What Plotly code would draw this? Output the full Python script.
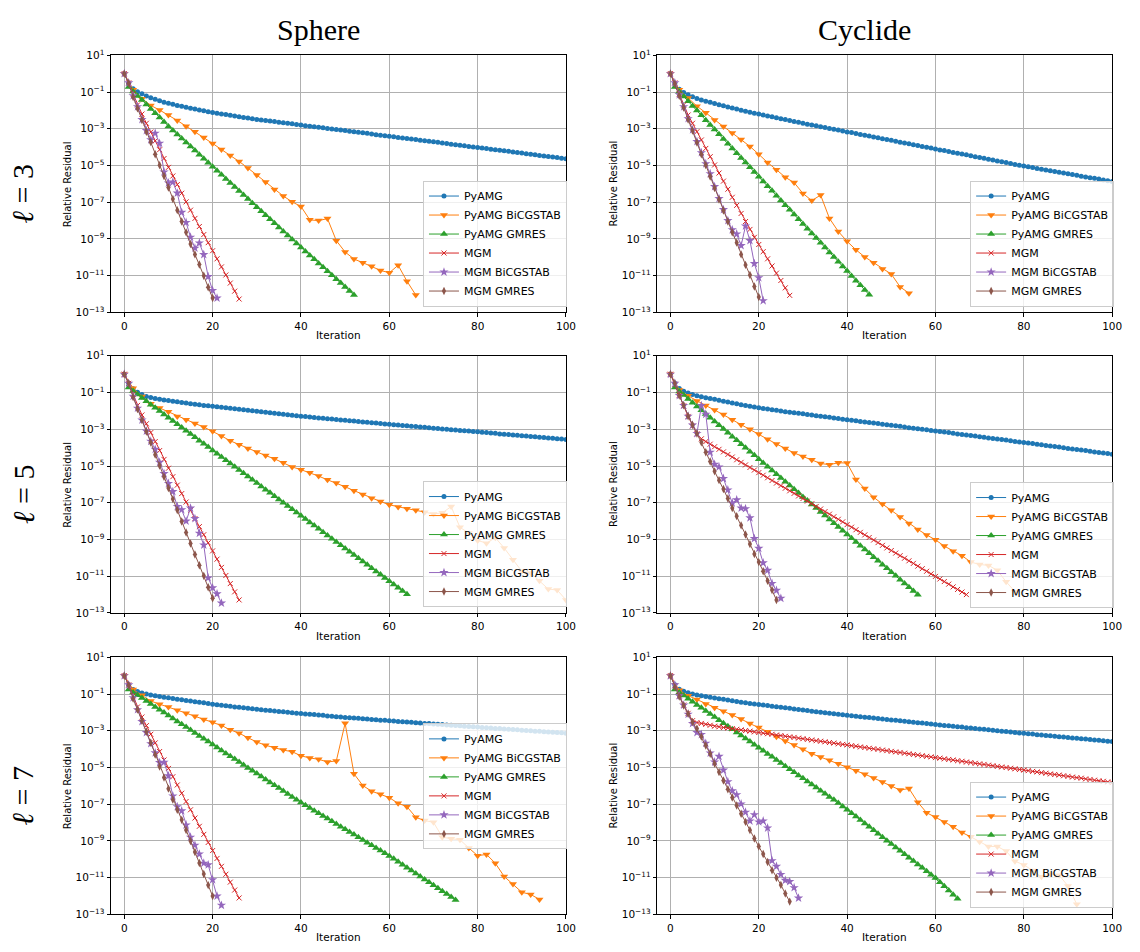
import plotly.graph_objects as go

# ---------------------------------------------------------------------------
# Convergence histories: log10 of the relative residual at each recorded
# iteration.  PyAMG, MGM and the MGM-preconditioned solvers record every
# iteration from 0, GMRES starts at iteration 1, BiCGSTAB records every
# second iteration.
# ---------------------------------------------------------------------------

# ---- Sphere, l = 3 ----
sph3_pyamg = [0.00, -0.55, -0.82, -0.98, -1.10, -1.21, -1.31, -1.40, -1.48, -1.55,
              -1.61, -1.67, -1.73, -1.78, -1.83, -1.88, -1.93, -1.98, -2.02, -2.07,
              -2.11, -2.15, -2.19, -2.23, -2.27, -2.31, -2.34, -2.38, -2.42, -2.45,
              -2.49, -2.52, -2.55, -2.58, -2.61, -2.64, -2.67, -2.70, -2.73, -2.77,
              -2.80, -2.83, -2.86, -2.89, -2.92, -2.95, -2.98, -3.01, -3.04, -3.07,
              -3.10, -3.13, -3.16, -3.19, -3.22, -3.25, -3.29, -3.32, -3.35, -3.38,
              -3.41, -3.44, -3.47, -3.50, -3.53, -3.56, -3.59, -3.62, -3.65, -3.68,
              -3.71, -3.74, -3.77, -3.80, -3.84, -3.87, -3.90, -3.93, -3.96, -3.99,
              -4.02, -4.05, -4.08, -4.11, -4.14, -4.17, -4.20, -4.23, -4.26, -4.29,
              -4.32, -4.36, -4.39, -4.42, -4.45, -4.48, -4.51, -4.54, -4.57, -4.60,
              -4.63]
sph3_bicgstab = [0.00, -0.88, -1.36, -1.73, -1.98, -2.25, -2.55, -2.86, -3.16, -3.48,
                 -3.80, -4.13, -4.45, -4.78, -5.14, -5.52, -5.90, -6.30, -6.66, -6.98,
                 -7.23, -7.96, -8.00, -7.89, -9.09, -9.71, -10.09, -10.29, -10.48, -10.71,
                 -10.84, -10.43, -11.30, -12.05]
sph3_gmres = [-0.73, -0.97, -1.21, -1.44, -1.68, -1.92, -2.16, -2.39, -2.63, -2.87,
              -3.09, -3.31, -3.53, -3.75, -3.97, -4.19, -4.41, -4.63, -4.85, -5.07,
              -5.29, -5.51, -5.73, -5.95, -6.17, -6.39, -6.61, -6.83, -7.05, -7.27,
              -7.49, -7.71, -7.93, -8.15, -8.37, -8.59, -8.81, -9.03, -9.25, -9.47,
              -9.68, -9.90, -10.11, -10.33, -10.54, -10.76, -10.97, -11.19, -11.40, -11.62,
              -11.83, -12.05]
sph3_mgm = [0.00, -0.50, -1.10, -1.70, -2.20, -2.70, -3.18, -3.66, -4.14, -4.62,
            -5.10, -5.57, -6.04, -6.51, -6.98, -7.43, -7.88, -8.32, -8.76, -9.20,
            -9.64, -10.08, -10.52, -10.96, -11.40, -11.84, -12.27]
sph3_mgm_bicgstab = [0.00, -0.50, -1.20, -1.80, -2.50, -3.10, -3.60, -3.24, -3.79, -5.35,
                     -5.95, -5.90, -6.50, -7.55, -8.10, -8.90, -9.50, -9.22, -9.85, -11.05,
                     -11.80, -12.22]
sph3_mgm_gmres = [0.00, -0.52, -1.27, -1.89, -2.52, -3.16, -3.73, -4.39, -4.98, -5.57,
                  -6.20, -6.82, -7.43, -8.05, -8.64, -9.27, -9.84, -10.39, -11.00, -11.63,
                  -12.21]

# ---- Cyclide, l = 3 ----
cyc3_pyamg = [0.00, -0.55, -0.85, -1.02, -1.15, -1.26, -1.35, -1.43, -1.50, -1.56,
              -1.62, -1.69, -1.75, -1.81, -1.87, -1.93, -1.99, -2.04, -2.10, -2.15,
              -2.20, -2.25, -2.30, -2.35, -2.40, -2.45, -2.50, -2.55, -2.60, -2.65,
              -2.70, -2.75, -2.79, -2.84, -2.89, -2.93, -2.98, -3.03, -3.07, -3.12,
              -3.17, -3.21, -3.26, -3.31, -3.35, -3.40, -3.45, -3.49, -3.54, -3.59,
              -3.63, -3.68, -3.73, -3.77, -3.82, -3.87, -3.91, -3.96, -4.01, -4.05,
              -4.10, -4.15, -4.19, -4.24, -4.29, -4.33, -4.38, -4.42, -4.47, -4.52,
              -4.56, -4.61, -4.66, -4.70, -4.75, -4.80, -4.84, -4.89, -4.94, -4.98,
              -5.03, -5.07, -5.11, -5.16, -5.20, -5.24, -5.28, -5.32, -5.37, -5.41,
              -5.45, -5.49, -5.53, -5.58, -5.62, -5.66, -5.70, -5.74, -5.79, -5.83,
              -5.87]
cyc3_bicgstab = [0.00, -0.88, -1.32, -1.77, -2.13, -2.52, -2.88, -3.23, -3.59, -3.96,
                 -4.39, -4.84, -5.23, -5.64, -5.93, -6.52, -6.91, -6.61, -7.88, -8.59,
                 -9.13, -9.59, -9.98, -10.29, -10.64, -10.91, -11.61, -11.95]
cyc3_gmres = [-0.73, -0.99, -1.24, -1.50, -1.76, -2.01, -2.27, -2.53, -2.79, -3.04,
              -3.30, -3.56, -3.81, -4.07, -4.33, -4.59, -4.84, -5.10, -5.36, -5.61,
              -5.87, -6.13, -6.38, -6.64, -6.90, -7.16, -7.41, -7.67, -7.93, -8.18,
              -8.44, -8.70, -8.95, -9.21, -9.47, -9.73, -9.98, -10.24, -10.50, -10.75,
              -11.01, -11.27, -11.52, -11.78, -12.04]
cyc3_mgm = [0.00, -0.50, -1.10, -1.70, -2.25, -2.70, -3.16, -3.61, -4.07, -4.52,
            -4.97, -5.41, -5.85, -6.29, -6.73, -7.17, -7.61, -8.05, -8.48, -8.91,
            -9.30, -9.69, -10.08, -10.47, -10.86, -11.26, -11.66, -12.07]
cyc3_mgm_bicgstab = [0.00, -0.50, -1.15, -1.80, -2.45, -3.05, -3.70, -4.30, -4.90, -5.45,
                     -6.15, -6.80, -7.40, -8.00, -8.50, -8.73, -9.36, -8.29, -9.09, -10.34,
                     -11.11, -12.36]
cyc3_mgm_gmres = [0.00, -0.55, -1.20, -1.85, -2.50, -3.10, -3.75, -4.39, -4.98, -5.60,
                  -6.23, -6.85, -7.45, -8.05, -8.64, -9.20, -9.84, -10.41, -10.96, -11.59,
                  -12.16]

# ---- Sphere, l = 5 ----
sph5_pyamg = [0.00, -0.50, -0.80, -0.98, -1.11, -1.21, -1.27, -1.32, -1.36, -1.40,
              -1.43, -1.47, -1.50, -1.54, -1.57, -1.61, -1.64, -1.67, -1.70, -1.72,
              -1.75, -1.78, -1.80, -1.83, -1.86, -1.88, -1.91, -1.94, -1.97, -1.99,
              -2.02, -2.05, -2.07, -2.10, -2.13, -2.15, -2.18, -2.21, -2.23, -2.26,
              -2.29, -2.31, -2.33, -2.36, -2.38, -2.40, -2.42, -2.44, -2.47, -2.49,
              -2.51, -2.53, -2.55, -2.58, -2.60, -2.62, -2.64, -2.66, -2.69, -2.71,
              -2.73, -2.75, -2.77, -2.79, -2.81, -2.83, -2.85, -2.87, -2.89, -2.91,
              -2.94, -2.96, -2.98, -3.00, -3.02, -3.04, -3.06, -3.08, -3.10, -3.12,
              -3.14, -3.16, -3.18, -3.20, -3.22, -3.25, -3.27, -3.29, -3.31, -3.33,
              -3.35, -3.37, -3.39, -3.41, -3.43, -3.45, -3.47, -3.49, -3.51, -3.53,
              -3.55]
sph5_bicgstab = [0.00, -0.77, -1.21, -1.61, -1.84, -2.05, -2.30, -2.48, -2.68, -2.88,
                 -3.11, -3.36, -3.63, -3.84, -4.04, -4.23, -4.43, -4.61, -4.82, -5.05,
                 -5.20, -5.36, -5.55, -5.75, -5.93, -6.13, -6.34, -6.55, -6.75, -6.93,
                 -7.11, -7.23, -7.32, -7.41, -7.52, -7.61, -7.55, -7.21, -8.34, -8.65,
                 -9.05, -9.20, -8.90, -9.46, -10.10, -10.73, -10.82, -11.25, -11.70, -11.75,
                 -12.29]
sph5_gmres = [-0.72, -0.92, -1.11, -1.30, -1.48, -1.66, -1.83, -2.01, -2.19, -2.37,
              -2.55, -2.73, -2.90, -3.08, -3.26, -3.44, -3.62, -3.79, -3.97, -4.15,
              -4.33, -4.51, -4.68, -4.86, -5.04, -5.22, -5.40, -5.57, -5.75, -5.93,
              -6.11, -6.29, -6.46, -6.64, -6.82, -7.00, -7.18, -7.35, -7.53, -7.71,
              -7.89, -8.07, -8.24, -8.42, -8.60, -8.78, -8.96, -9.13, -9.31, -9.49,
              -9.67, -9.85, -10.02, -10.20, -10.38, -10.56, -10.74, -10.91, -11.09, -11.27,
              -11.45, -11.63, -11.80, -11.98]
sph5_mgm = [0.00, -0.50, -1.10, -1.70, -2.22, -2.70, -3.18, -3.67, -4.16, -4.64,
            -5.12, -5.58, -6.04, -6.50, -6.96, -7.41, -7.86, -8.30, -8.74, -9.18,
            -9.62, -10.07, -10.52, -10.96, -11.40, -11.85, -12.29]
sph5_mgm_bicgstab = [0.00, -0.50, -1.20, -1.85, -2.50, -3.10, -3.65, -4.09, -4.80, -5.41,
                     -5.95, -6.39, -7.20, -7.38, -8.00, -7.29, -7.86, -8.66, -9.30, -11.09,
                     -11.63, -11.96, -12.46]
sph5_mgm_gmres = [0.00, -0.50, -1.25, -1.90, -2.50, -3.12, -3.72, -4.38, -4.98, -5.58,
                  -6.20, -6.80, -7.40, -8.02, -8.62, -9.22, -9.82, -10.40, -10.98, -11.60,
                  -12.20]

# ---- Cyclide, l = 5 ----
cyc5_pyamg = [0.00, -0.50, -0.78, -0.93, -1.03, -1.11, -1.17, -1.23, -1.28, -1.32,
              -1.37, -1.42, -1.47, -1.52, -1.57, -1.61, -1.66, -1.70, -1.75, -1.79,
              -1.83, -1.87, -1.90, -1.94, -1.97, -2.00, -2.04, -2.07, -2.10, -2.13,
              -2.16, -2.19, -2.22, -2.26, -2.29, -2.32, -2.35, -2.38, -2.41, -2.45,
              -2.48, -2.51, -2.54, -2.57, -2.60, -2.63, -2.66, -2.69, -2.72, -2.75,
              -2.78, -2.81, -2.84, -2.87, -2.91, -2.94, -2.97, -3.00, -3.03, -3.06,
              -3.09, -3.12, -3.15, -3.18, -3.22, -3.25, -3.28, -3.31, -3.34, -3.37,
              -3.41, -3.44, -3.47, -3.50, -3.53, -3.56, -3.59, -3.63, -3.66, -3.69,
              -3.72, -3.75, -3.78, -3.81, -3.84, -3.88, -3.91, -3.94, -3.97, -4.00,
              -4.04, -4.07, -4.10, -4.13, -4.16, -4.19, -4.23, -4.26, -4.29, -4.32,
              -4.36]
cyc5_bicgstab = [0.00, -0.86, -1.18, -1.46, -1.71, -1.95, -2.20, -2.48, -2.75, -3.00,
                 -3.25, -3.54, -3.80, -4.04, -4.29, -4.48, -4.66, -4.86, -4.93, -4.82,
                 -4.84, -5.73, -6.23, -6.70, -7.07, -7.41, -7.77, -8.13, -8.45, -8.75,
                 -9.02, -9.36, -9.64, -9.88, -10.23, -10.36, -10.41, -10.68, -11.30, -11.84]
cyc5_gmres = [-0.73, -0.94, -1.14, -1.35, -1.55, -1.76, -1.96, -2.17, -2.37, -2.58,
              -2.78, -2.99, -3.19, -3.40, -3.60, -3.81, -4.01, -4.22, -4.42, -4.63,
              -4.83, -5.04, -5.24, -5.45, -5.65, -5.86, -6.06, -6.27, -6.47, -6.68,
              -6.88, -7.09, -7.29, -7.50, -7.70, -7.91, -8.11, -8.32, -8.52, -8.73,
              -8.93, -9.14, -9.34, -9.55, -9.75, -9.96, -10.16, -10.37, -10.57, -10.78,
              -10.98, -11.19, -11.39, -11.60, -11.80, -12.01]
cyc5_mgm = [0.00, -0.55, -1.15, -1.72, -2.30, -2.82, -3.25, -3.52, -3.67, -3.81,
            -3.95, -4.09, -4.23, -4.37, -4.51, -4.66, -4.80, -4.94, -5.08, -5.22,
            -5.36, -5.50, -5.64, -5.79, -5.93, -6.07, -6.21, -6.35, -6.49, -6.63,
            -6.77, -6.91, -7.05, -7.20, -7.34, -7.48, -7.62, -7.76, -7.90, -8.04,
            -8.19, -8.33, -8.47, -8.61, -8.75, -8.89, -9.03, -9.17, -9.32, -9.46,
            -9.60, -9.74, -9.88, -10.02, -10.16, -10.30, -10.45, -10.59, -10.73, -10.87,
            -11.01, -11.15, -11.29, -11.43, -11.58, -11.72, -11.86, -12.00]
cyc5_mgm_bicgstab = [0.00, -0.50, -1.16, -1.70, -2.29, -2.77, -3.23, -1.71, -2.18, -4.25,
                     -4.91, -5.05, -5.68, -6.30, -7.02, -6.84, -7.29, -7.32, -7.82, -8.95,
                     -9.48, -10.27, -10.68, -11.39, -11.77, -12.20]
cyc5_mgm_gmres = [0.00, -0.50, -1.16, -1.70, -2.29, -2.77, -3.23, -3.71, -4.25, -4.75,
                  -5.29, -5.77, -6.25, -6.77, -7.29, -7.73, -8.23, -8.73, -9.25, -9.79,
                  -10.23, -10.73, -11.25, -11.75, -12.29]

# ---- Sphere, l = 7 ----
sph7_pyamg = [0.00, -0.50, -0.75, -0.86, -0.94, -1.00, -1.05, -1.09, -1.13, -1.17,
              -1.20, -1.24, -1.28, -1.31, -1.35, -1.38, -1.42, -1.45, -1.48, -1.52,
              -1.55, -1.58, -1.61, -1.64, -1.67, -1.70, -1.72, -1.75, -1.78, -1.80,
              -1.83, -1.85, -1.88, -1.90, -1.92, -1.95, -1.97, -1.99, -2.02, -2.04,
              -2.06, -2.08, -2.10, -2.12, -2.14, -2.16, -2.19, -2.21, -2.23, -2.25,
              -2.27, -2.29, -2.31, -2.32, -2.34, -2.36, -2.38, -2.40, -2.42, -2.43,
              -2.45, -2.47, -2.49, -2.51, -2.52, -2.54, -2.56, -2.58, -2.60, -2.61,
              -2.63, -2.65, -2.66, -2.68, -2.70, -2.71, -2.73, -2.75, -2.77, -2.78,
              -2.80, -2.82, -2.83, -2.85, -2.87, -2.88, -2.90, -2.92, -2.93, -2.95,
              -2.97, -2.98, -3.00, -3.02, -3.03, -3.05, -3.06, -3.08, -3.10, -3.11,
              -3.13]
sph7_bicgstab = [0.00, -0.75, -1.07, -1.38, -1.55, -1.70, -1.88, -2.04, -2.21, -2.39,
                 -2.54, -2.71, -2.95, -3.13, -3.38, -3.61, -3.79, -3.93, -4.05, -4.14,
                 -4.36, -4.48, -4.55, -4.70, -4.64, -2.59, -5.34, -5.98, -6.29, -6.46,
                 -6.64, -6.95, -7.13, -7.71, -7.89, -7.98, -8.79, -8.88, -8.93, -9.38,
                 -9.80, -9.73, -10.21, -10.93, -11.34, -11.79, -11.91, -12.18]
sph7_gmres = [-0.75, -0.91, -1.07, -1.22, -1.38, -1.54, -1.70, -1.86, -2.01, -2.17,
              -2.33, -2.49, -2.65, -2.80, -2.96, -3.12, -3.28, -3.44, -3.59, -3.75,
              -3.91, -4.07, -4.23, -4.38, -4.54, -4.70, -4.86, -5.02, -5.17, -5.33,
              -5.49, -5.65, -5.81, -5.96, -6.12, -6.28, -6.44, -6.60, -6.75, -6.91,
              -7.06, -7.20, -7.35, -7.49, -7.64, -7.78, -7.93, -8.07, -8.22, -8.36,
              -8.51, -8.65, -8.80, -8.94, -9.09, -9.23, -9.38, -9.52, -9.67, -9.81,
              -9.97, -10.13, -10.29, -10.45, -10.61, -10.77, -10.93, -11.09, -11.25, -11.41,
              -11.57, -11.73, -11.89, -12.05, -12.21]
sph7_mgm = [0.00, -0.50, -1.10, -1.70, -2.25, -2.72, -3.19, -3.66, -4.13, -4.59,
            -5.05, -5.50, -5.95, -6.40, -6.85, -7.30, -7.75, -8.20, -8.64, -9.08,
            -9.52, -9.95, -10.38, -10.81, -11.24, -11.67, -12.10]
sph7_mgm_bicgstab = [0.00, -0.50, -1.20, -1.85, -2.50, -3.10, -3.70, -4.20, -4.73, -4.71,
                     -5.45, -6.55, -7.13, -7.36, -8.13, -8.79, -9.23, -9.71, -10.21, -10.30,
                     -11.11, -12.00, -12.50]
sph7_mgm_gmres = [0.00, -0.52, -1.25, -1.85, -2.45, -3.05, -3.65, -4.30, -4.95, -5.55,
                  -6.15, -6.75, -7.30, -7.85, -8.40, -9.00, -9.60, -10.20, -10.80, -11.40,
                  -12.00]

# ---- Cyclide, l = 7 ----
cyc7_pyamg = [0.00, -0.50, -0.74, -0.85, -0.93, -1.00, -1.05, -1.09, -1.13, -1.17,
              -1.21, -1.25, -1.29, -1.33, -1.37, -1.40, -1.44, -1.47, -1.51, -1.54,
              -1.57, -1.60, -1.63, -1.66, -1.69, -1.72, -1.75, -1.78, -1.81, -1.84,
              -1.87, -1.90, -1.93, -1.96, -1.99, -2.02, -2.04, -2.07, -2.10, -2.13,
              -2.16, -2.18, -2.21, -2.23, -2.26, -2.28, -2.31, -2.33, -2.36, -2.38,
              -2.41, -2.43, -2.46, -2.48, -2.51, -2.53, -2.56, -2.58, -2.61, -2.63,
              -2.66, -2.68, -2.71, -2.73, -2.75, -2.78, -2.80, -2.83, -2.85, -2.88,
              -2.90, -2.92, -2.95, -2.97, -3.00, -3.02, -3.04, -3.07, -3.09, -3.12,
              -3.14, -3.16, -3.18, -3.21, -3.23, -3.25, -3.27, -3.30, -3.32, -3.34,
              -3.36, -3.39, -3.41, -3.43, -3.45, -3.48, -3.50, -3.52, -3.54, -3.57,
              -3.59]
cyc7_bicgstab = [0.00, -0.79, -1.09, -1.30, -1.54, -1.75, -1.93, -2.14, -2.36, -2.61,
                 -2.82, -3.05, -3.32, -3.55, -3.77, -4.00, -4.25, -4.43, -4.61, -4.79,
                 -4.98, -5.18, -5.36, -5.57, -5.79, -6.00, -6.23, -6.14, -6.89, -7.46,
                 -7.70, -7.96, -8.23, -8.54, -8.77, -9.04, -9.30, -9.30, -9.55, -10.10,
                 -10.30, -10.60, -10.95, -10.80, -10.86, -11.45, -12.45]
cyc7_gmres = [-0.75, -0.92, -1.08, -1.25, -1.42, -1.59, -1.75, -1.92, -2.09, -2.25,
              -2.42, -2.59, -2.75, -2.92, -3.09, -3.26, -3.42, -3.59, -3.76, -3.92,
              -4.09, -4.26, -4.42, -4.59, -4.76, -4.93, -5.09, -5.26, -5.43, -5.59,
              -5.76, -5.93, -6.09, -6.26, -6.43, -6.60, -6.76, -6.93, -7.12, -7.30,
              -7.49, -7.67, -7.86, -8.05, -8.23, -8.42, -8.60, -8.79, -8.98, -9.16,
              -9.35, -9.53, -9.72, -9.91, -10.09, -10.28, -10.46, -10.65, -10.84, -11.02,
              -11.25, -11.47, -11.70, -11.92, -12.15]
cyc7_mgm = [0.00, -0.55, -1.10, -1.60, -2.05, -2.45, -2.55, -2.60, -2.65, -2.70,
            -2.75, -2.78, -2.82, -2.85, -2.89, -2.92, -2.95, -2.99, -3.02, -3.06,
            -3.09, -3.13, -3.16, -3.19, -3.23, -3.26, -3.30, -3.33, -3.36, -3.40,
            -3.43, -3.47, -3.50, -3.54, -3.57, -3.60, -3.64, -3.67, -3.71, -3.74,
            -3.77, -3.81, -3.84, -3.88, -3.91, -3.95, -3.98, -4.01, -4.05, -4.08,
            -4.12, -4.15, -4.18, -4.22, -4.25, -4.29, -4.32, -4.36, -4.39, -4.42,
            -4.46, -4.49, -4.53, -4.56, -4.59, -4.63, -4.66, -4.70, -4.73, -4.77,
            -4.80, -4.83, -4.87, -4.90, -4.94, -4.97, -5.00, -5.04, -5.07, -5.11,
            -5.14, -5.17, -5.21, -5.24, -5.28, -5.31, -5.35, -5.38, -5.41, -5.45,
            -5.48, -5.52, -5.55, -5.58, -5.62, -5.65, -5.69, -5.72, -5.75, -5.79,
            -5.82]
cyc7_mgm_bicgstab = [0.00, -0.50, -1.10, -1.60, -2.10, -2.60, -3.10, -3.20, -3.68, -4.21,
                     -4.70, -4.39, -5.14, -5.77, -6.27, -6.48, -6.98, -7.43, -7.91, -7.57,
                     -7.96, -7.91, -8.29, -10.07, -10.38, -10.82, -11.14, -11.21, -11.54, -12.11]
cyc7_mgm_gmres = [0.00, -0.61, -1.14, -1.63, -2.07, -2.52, -2.88, -3.32, -3.80, -4.25,
                  -4.79, -5.25, -5.71, -6.18, -6.63, -7.07, -7.52, -7.96, -8.41, -8.86,
                  -9.30, -9.71, -10.14, -10.59, -11.00, -11.39, -11.86, -12.30]

# ---------------------------------------------------------------------------
series_names = ["PyAMG", "PyAMG BiCGSTAB", "PyAMG GMRES", "MGM", "MGM BiCGSTAB", "MGM GMRES"]
first_iter = [0, 0, 1, 0, 0, 0]
iter_stride = [1, 2, 1, 1, 1, 1]

colors = ["#1f77b4", "#ff7f0e", "#2ca02c", "#d62728", "#9467bd", "#8c564b"]
symbols = ["circle", "triangle-down", "triangle-up", "x-thin", "star", "diamond-tall"]
msizes = [5, 7, 7, 5, 7, 6]

column_titles = ["Sphere", "Cyclide"]
levels = [3, 5, 7]

# decade exponents labelled on the residual axis
y_exponents = [1, -1, -3, -5, -7, -9, -11, -13]
x_ticks = [0, 20, 40, 60, 80, 100]

# panels in row-major order: (row, col, data for the six solvers)
panels = [
    (0, 0, [sph3_pyamg, sph3_bicgstab, sph3_gmres, sph3_mgm, sph3_mgm_bicgstab, sph3_mgm_gmres]),
    (0, 1, [cyc3_pyamg, cyc3_bicgstab, cyc3_gmres, cyc3_mgm, cyc3_mgm_bicgstab, cyc3_mgm_gmres]),
    (1, 0, [sph5_pyamg, sph5_bicgstab, sph5_gmres, sph5_mgm, sph5_mgm_bicgstab, sph5_mgm_gmres]),
    (1, 1, [cyc5_pyamg, cyc5_bicgstab, cyc5_gmres, cyc5_mgm, cyc5_mgm_bicgstab, cyc5_mgm_gmres]),
    (2, 0, [sph7_pyamg, sph7_bicgstab, sph7_gmres, sph7_mgm, sph7_mgm_bicgstab, sph7_mgm_gmres]),
    (2, 1, [cyc7_pyamg, cyc7_bicgstab, cyc7_gmres, cyc7_mgm, cyc7_mgm_bicgstab, cyc7_mgm_gmres]),
]

# ---------------------------------------------------------------------------
# Page geometry (pixels)
W, H = 1140, 952
col_px = [(112, 571), (663, 1122)]
row_px = [(48, 309), (353, 614), (659, 920)]
# legend anchor per panel: (right edge x, y, vertical anchor)
legend_px = [(572, 303, "bottom"), (1124, 303, "bottom"),
             (572, 608, "bottom"), (1124, 609, "bottom"),
             (572, 790, "middle"), (1124, 913, "bottom")]


def px_x(v):
    return v / W


def px_y(v):
    return 1 - v / H


FONT = "DejaVu Sans"
ytick_vals = [10.0 ** e for e in y_exponents]
ytick_text = ["10<sup>%s</sup>" % str(e).replace("-", "\u2212") for e in y_exponents]

fig = go.Figure()
layout = dict(
    width=W, height=H,
    margin=dict(l=0, r=0, t=0, b=0),
    paper_bgcolor="white", plot_bgcolor="white",
    showlegend=True,
    annotations=[],
)

for k, (r, c, data) in enumerate(panels):
    ax = "" if k == 0 else str(k + 1)
    leg = "legend" if k == 0 else "legend%d" % (k + 1)
    for i, logres in enumerate(data):
        xs = [first_iter[i] + iter_stride[i] * j for j in range(len(logres))]
        ys = [10.0 ** v for v in logres]
        fig.add_trace(go.Scatter(
            x=xs, y=ys, mode="lines+markers", name=series_names[i],
            xaxis="x" + ax, yaxis="y" + ax, legend=leg,
            line=dict(color=colors[i], width=1),
            marker=dict(symbol=symbols[i], size=msizes[i], color=colors[i],
                        line=dict(color=colors[i], width=1 if symbols[i] == "x-thin" else 0)),
        ))

    x0, x1 = col_px[c]
    y0, y1 = row_px[r]
    layout["xaxis" + ax] = dict(
        domain=[px_x(x0), px_x(x1)], anchor="y" + ax, range=[-3, 100],
        tickmode="array", tickvals=x_ticks,
        ticks="outside", ticklen=3.5, tickwidth=0.8, tickcolor="black",
        tickfont=dict(family=FONT, size=10.5, color="black"),
        showline=True, linecolor="black", linewidth=1, mirror=True,
        showgrid=True, gridcolor="#b0b0b0", gridwidth=0.8, zeroline=False,
    )
    layout["yaxis" + ax] = dict(
        domain=[px_y(y1), px_y(y0)], anchor="x" + ax, type="log", range=[-13, 1],
        tickmode="array", tickvals=ytick_vals, ticktext=ytick_text,
        ticks="outside", ticklen=3.5, tickwidth=0.8, tickcolor="black",
        tickfont=dict(family=FONT, size=10.5, color="black"),
        showline=True, linecolor="black", linewidth=1, mirror=True,
        showgrid=True, gridcolor="#b0b0b0", gridwidth=0.8, zeroline=False,
    )

    lx, ly, lanchor = legend_px[k]
    layout[leg] = dict(
        x=px_x(lx), y=px_y(ly), xanchor="right", yanchor=lanchor,
        bgcolor="rgba(255,255,255,0.8)", bordercolor="#cccccc", borderwidth=1,
        font=dict(family=FONT, size=11, color="black"),
        itemwidth=30, tracegroupgap=0,
    )

    # axis titles
    layout["annotations"].append(dict(
        text="Iteration", x=px_x((x0 + x1) / 2), y=px_y(y1 + 23),
        xref="paper", yref="paper", showarrow=False, xanchor="center", yanchor="middle",
        font=dict(family=FONT, size=10.5, color="black"),
    ))
    layout["annotations"].append(dict(
        text="Relative Residual", x=px_x(x0 - 44), y=px_y((y0 + y1) / 2),
        xref="paper", yref="paper", showarrow=False, xanchor="center", yanchor="middle",
        textangle=-90, font=dict(family=FONT, size=10, color="black"),
    ))

# column headings
for c, title in enumerate(column_titles):
    x0, x1 = col_px[c]
    layout["annotations"].append(dict(
        text=title, x=px_x((x0 + x1) / 2 - 20), y=px_y(22),
        xref="paper", yref="paper", showarrow=False, xanchor="center", yanchor="middle",
        font=dict(family="Liberation Serif", size=30, color="black"),
    ))

# row headings
for r, lev in enumerate(levels):
    y0, y1 = row_px[r]
    layout["annotations"].append(dict(
        text="<i>\u2113</i> = %d" % lev, x=px_x(23), y=px_y((y0 + y1) / 2 + 10),
        xref="paper", yref="paper", showarrow=False, xanchor="center", yanchor="middle",
        textangle=-90, font=dict(family="Liberation Serif", size=30, color="black"),
    ))

fig.update_layout(**layout)
fig.write_html("out.html")
